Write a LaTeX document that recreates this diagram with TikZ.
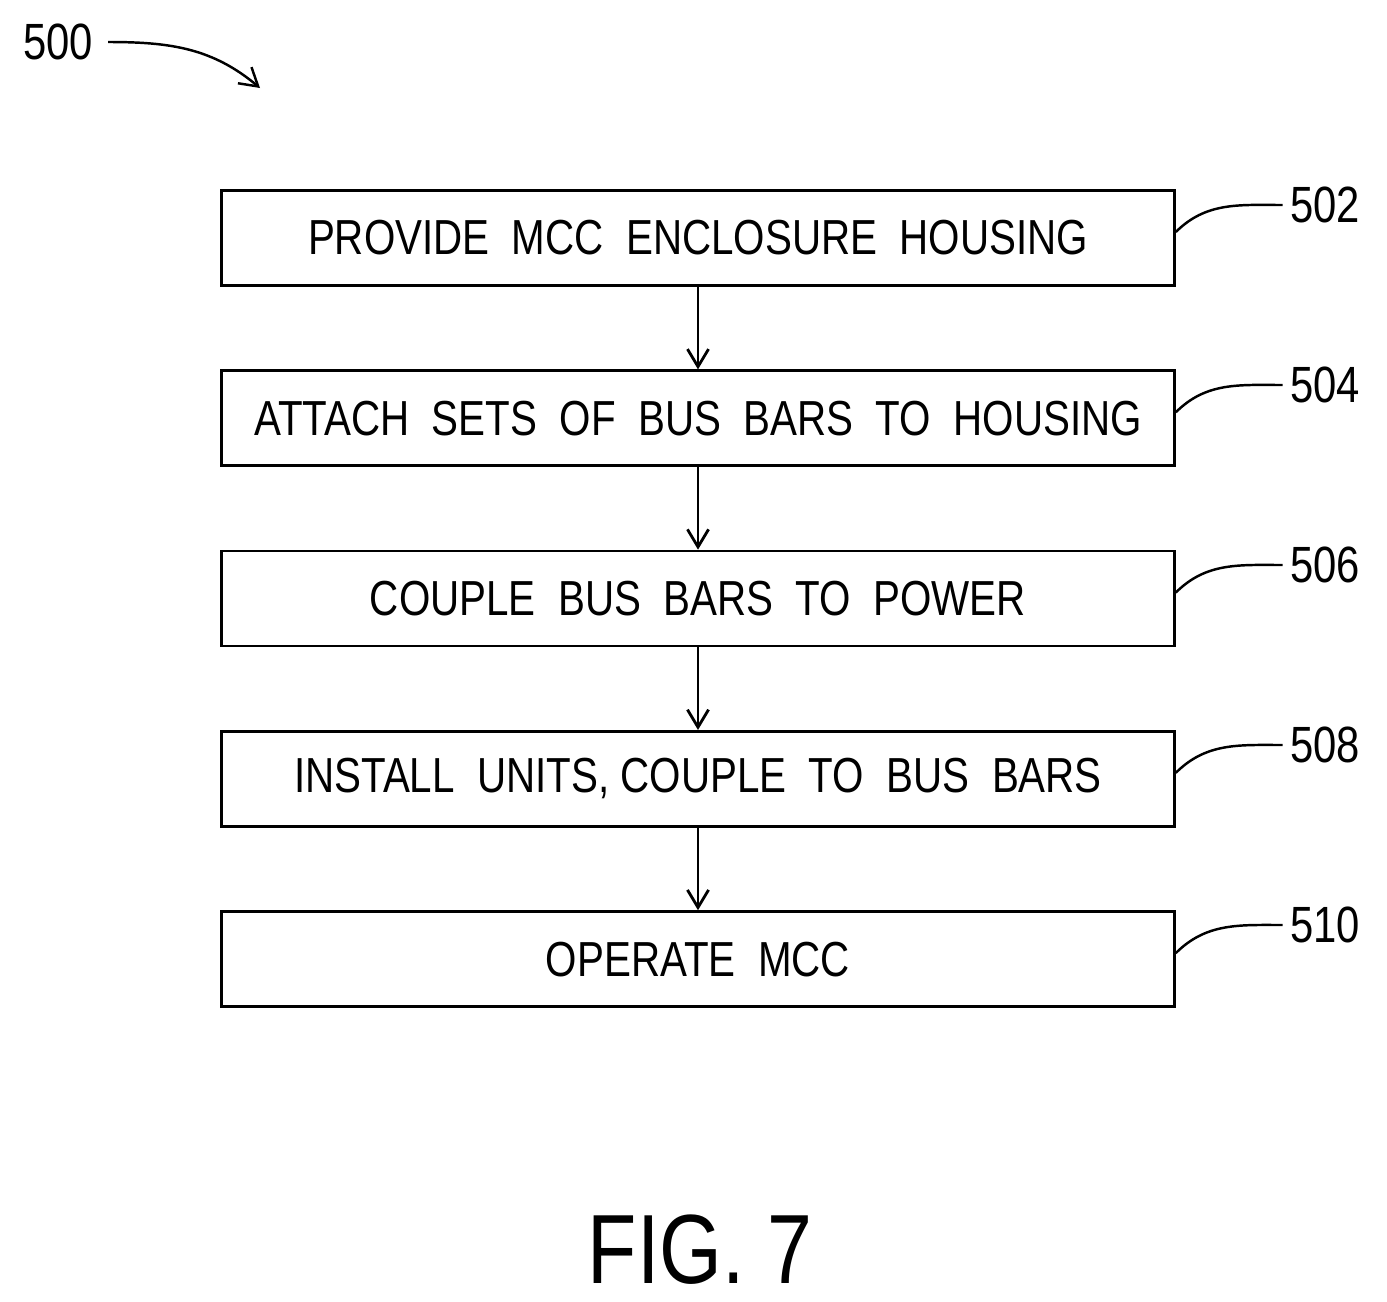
\documentclass[tikz,border=0pt]{standalone}
\usepackage{fontspec}
\setmainfont[FakeStretch=0.82]{Liberation Sans}
\usetikzlibrary{positioning,arrows.meta}
\tikzset{
  stepbox/.style={draw, line width=1.6pt, minimum width=19.06cm, minimum height=1.9cm,
    inner sep=0pt, font=\fontsize{28}{32}\selectfont},
  flow/.style={line width=1.6pt, -{Straight Barb[length=10pt,width=12pt,line width=1.6pt]}},
  lead/.style={line width=1.4pt},
  ref/.style={font=\fontsize{29}{32}\selectfont, inner sep=0pt}
}
\begin{document}
\begin{tikzpicture}[x=0.02cm,y=-0.02cm]
	\useasboundingbox (0,0) rectangle (1387,1302);
		\node (s1)[stepbox] at (698,238) {PROVIDE\ \ MCC\ \ ENCLOSURE\ \ HOUSING};
		\node (s2)[stepbox, below = 1.65cm of s1] {ATTACH\ \ SETS\ \ OF\ \ BUS\ \ BARS\ \ TO\ \ HOUSING};
		\node (s3)[stepbox, below = 1.65cm of s2] {COUPLE\ \ BUS\ \ BARS\ \ TO\ \ POWER};
		\node (s4)[stepbox, below = 1.65cm of s3] {INSTALL\ \ UNITS,\ COUPLE\ \ TO\ \ BUS\ \ BARS};
		\node (s5)[stepbox, below = 1.65cm of s4] {OPERATE\ \ MCC};
		\draw [flow](s1)--(s2);
		\draw [flow](s2)--(s3);
		\draw [flow](s3)--(s4);
		\draw [flow](s4)--(s5);
		%
		\node (r502)[ref, anchor=west] at (1290,205) {502};
		\node (r504)[ref, anchor=west] at (1290,385) {504};
		\node (r506)[ref, anchor=west] at (1290,565) {506};
		\node (r508)[ref, anchor=west] at (1290,745) {508};
		\node (r510)[ref, anchor=west] at (1290,925) {510};
		\foreach \n/\r in {s1/r502,s2/r504,s3/r506,s4/r508,s5/r510}
			\draw [lead] ([yshift=0.12cm]\n.east) to[out=45,in=180] ([xshift=-0.15cm]\r.west);
		%
		\node (r500)[ref] at (58,42) {500};
		\coordinate (t500) at (260,88);
		\draw [lead, -{Straight Barb[length=10pt,width=12pt,line width=1.4pt]}] ([xshift=0.3cm]r500.east) to[out=0,in=140] (t500);
		%
		\node (fig)[font=\fontsize{56}{60}\selectfont] at (700,1250) {FIG.\ 7};
	\end{tikzpicture}
\end{document}
